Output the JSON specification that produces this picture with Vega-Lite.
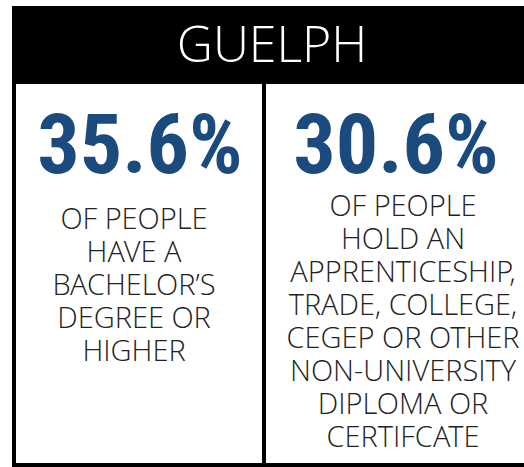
{
  "$schema": "https://vega.github.io/schema/vega-lite/v6.json",
  "padding": {"left": 12, "top": 6, "right": 0, "bottom": 0},
  "background": "white",
  "spacing": 0,
  "bounds": "flush",
  "config": {"view": {"stroke": null}, "concat": {"spacing": 0}},
  "vconcat": [
    {
      "width": 512,
      "height": 74,
      "view": {"fill": "black", "stroke": "black", "strokeWidth": 4},
      "data": {"values": [{"title": "GUELPH"}]},
      "mark": {"type": "text", "font": "'Open Sans Light', 'Open Sans', sans-serif", "fontWeight": 300, "fontSize": 50, "color": "white", "baseline": "alphabetic", "align": "center", "y": 54, "x": 258},
      "encoding": {"text": {"field": "title"}}
    },
    {
      "width": 512,
      "height": 383,
      "view": {"stroke": "black", "strokeWidth": 4},
      "data": {"values": [
        {"panel": "left", "share": 0.356, "desc": "OF PEOPLE\nHAVE A\nBACHELOR’S\nDEGREE OR\nHIGHER"},
        {"panel": "right", "share": 0.306, "desc": "OF PEOPLE\nHOLD AN\nAPPRENTICESHIP,\nTRADE, COLLEGE,\nCEGEP OR OTHER\nNON-UNIVERSITY\nDIPLOMA OR\nCERTIFCATE"}
      ]},
      "encoding": {
        "x": {"field": "panel", "type": "nominal", "scale": {"paddingInner": 0, "paddingOuter": 0}, "axis": null}
      },
      "layer": [
        {
          "mark": {"type": "text", "font": "'Roboto Condensed', 'DejaVu Sans Condensed', 'Noto Sans', sans-serif", "fontWeight": "bold", "fontSize": 84, "color": "#1b4a7f", "baseline": "alphabetic", "align": "center", "y": 91, "dx": -2},
          "encoding": {"text": {"field": "share", "type": "quantitative", "format": ".1%"}}
        },
        {
          "transform": [{"filter": "datum.panel === 'left'"}],
          "mark": {"type": "text", "font": "'Open Sans Light', 'Open Sans', sans-serif", "fontWeight": 300, "fontSize": 29, "color": "#222222", "baseline": "alphabetic", "align": "center", "lineBreak": "\n", "lineHeight": 33, "y": 147, "dx": -8},
          "encoding": {"text": {"field": "desc"}}
        },
        {
          "transform": [{"filter": "datum.panel === 'right'"}],
          "mark": {"type": "text", "font": "'Open Sans Light', 'Open Sans', sans-serif", "fontWeight": 300, "fontSize": 29, "color": "#222222", "baseline": "alphabetic", "align": "center", "lineBreak": "\n", "lineHeight": 33, "y": 134, "dx": 5},
          "encoding": {"text": {"field": "desc"}}
        },
        {
          "transform": [{"filter": "datum.panel === 'right'"}],
          "mark": {"type": "rule", "color": "black", "strokeWidth": 4, "xOffset": -6},
          "encoding": {"x": {"field": "panel", "type": "nominal", "bandPosition": 0}, "y": {"value": 0}, "y2": {"value": 383}}
        }
      ]
    }
  ]
}
